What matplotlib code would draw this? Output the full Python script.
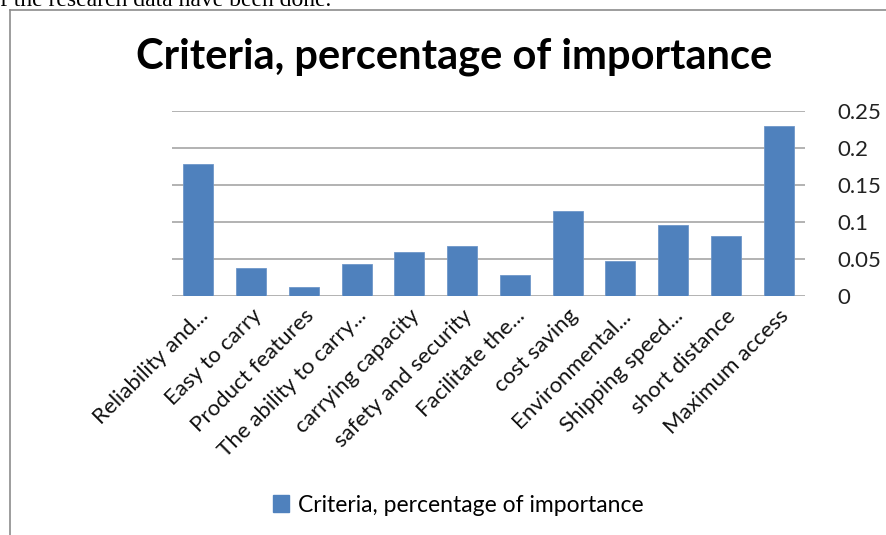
import numpy as np
import matplotlib
matplotlib.use("Agg")
import matplotlib.pyplot as plt
from matplotlib.patches import Patch

categories = ["Reliability and...", "Easy to carry", "Product features",
              "The ability to carry...", "carrying capacity", "safety and security",
              "Facilitate the...", "cost saving", "Environmental...",
              "Shipping speed...", "short distance", "Maximum access"]
importance = [0.178, 0.038, 0.012, 0.043, 0.060, 0.068,
              0.028, 0.115, 0.047, 0.096, 0.081, 0.230]
yticks = [0, 0.05, 0.1, 0.15, 0.2, 0.25]
ylabels = ["0", "0.05", "0.1", "0.15", "0.2", "0.25"]
title = "Criteria, percentage of importance"

W, H = 886, 535
fig = plt.figure(figsize=(W / 100, H / 100), dpi=100)
plt.rcParams['font.family'] = ['Lato', 'DejaVu Sans']

# cut-off line of document text above the chart
fig.text(0.0, 1 - 0 / H, "f the research data have been done.", family="Liberation Serif",
         fontsize=17, va="center", ha="left", color="black")

# chart frame (left and top edges visible)
fig.add_artist(plt.Line2D([10 / W, 10 / W], [1 - 10 / H, 0], color="#8c8c8c", lw=1.2))
fig.add_artist(plt.Line2D([10 / W, 1], [1 - 10 / H, 1 - 10 / H], color="#8c8c8c", lw=1.2))

ax = fig.add_axes([172 / W, 1 - 296 / H, (805 - 172) / W, (296 - 111) / H])
x = np.arange(len(categories))
ax.bar(x, importance, width=0.57, color="#4F81BD", edgecolor="#6f97c9", linewidth=0.6,
       zorder=3, label=title)
ax.set_xlim(-0.5, len(categories) - 0.5)
ax.set_ylim(0, 0.25)
ax.set_yticks(yticks)
ax.set_yticklabels(ylabels, fontsize=16, color="#222222")
ax.yaxis.tick_right()
ax.tick_params(axis="y", length=0, pad=23)
ax.grid(axis="y", color="#a6a6a6", lw=1.2, zorder=0)
for s in ax.spines.values():
    s.set_visible(False)
ax.set_xticks(x)
ax.set_xticklabels(categories, rotation=45, ha="right", rotation_mode="anchor",
                   fontsize=16, color="#111111")
ax.tick_params(axis="x", length=0, pad=7)

fig.text(454 / W, 1 - 57 / H, title, fontsize=30, fontweight="bold", ha="center",
         va="center", color="black")

fig.legend(handles=[Patch(color="#4F81BD", label=title)], loc="center",
           bbox_to_anchor=(458 / W, 1 - 505 / H), frameon=False, fontsize=16.5,
           handlelength=0.7, handleheight=0.7, handletextpad=0.4)

fig.savefig("out.png", dpi=100)
